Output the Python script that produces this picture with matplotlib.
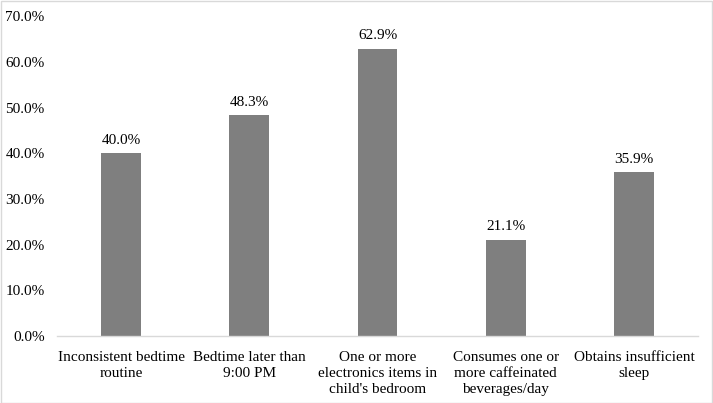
import matplotlib
matplotlib.use("Agg")
import matplotlib.pyplot as plt
from matplotlib.ticker import FuncFormatter

categories = ["Inconsistent bedtime\nroutine",
              "Bedtime later than\n9:00 PM",
              "One or more\nelectronics items in\nchild's bedroom",
              "Consumes one or\nmore caffeinated\nbeverages/day",
              "Obtains insufficient\nsleep"]
values = [40.0, 48.3, 62.9, 21.1, 35.9]
yticks = [0, 10, 20, 30, 40, 50, 60, 70]

plt.rcParams['font.family'] = ['Liberation Serif', 'DejaVu Serif']
plt.rcParams['font.size'] = 11

fig = plt.figure(figsize=(7.13, 4.03), dpi=100)
ax = fig.add_axes([0.080, 0.166, 0.899, 0.794])

x = list(range(len(values)))
bars = ax.bar(x, values, width=0.31, color='#7f7f7f')
for xi, v in zip(x, values):
    ax.text(xi, v + 1.4, f"{v:.1f}%", ha='center', va='bottom')

ax.set_xlim(-0.5, len(values) - 0.5)
ax.set_ylim(0, 70)
ax.set_yticks(yticks)
ax.yaxis.set_major_formatter(FuncFormatter(lambda v, p: f"{v:.1f}%"))
ax.set_xticks(x)
ax.set_xticklabels(categories, linespacing=1.3)
ax.tick_params(length=0)
ax.tick_params(axis='y', pad=9)
ax.tick_params(axis='x', pad=11)

for s in ['top', 'right', 'left']:
    ax.spines[s].set_visible(False)
ax.spines['bottom'].set_color('#d9d9d9')
ax.spines['bottom'].set_linewidth(1)

border = plt.Rectangle((0.001, 0.001), 0.997, 0.996, transform=fig.transFigure,
                       fill=False, edgecolor='#d9d9d9', linewidth=1)
fig.patches.append(border)

fig.savefig("out.png", dpi=100)
